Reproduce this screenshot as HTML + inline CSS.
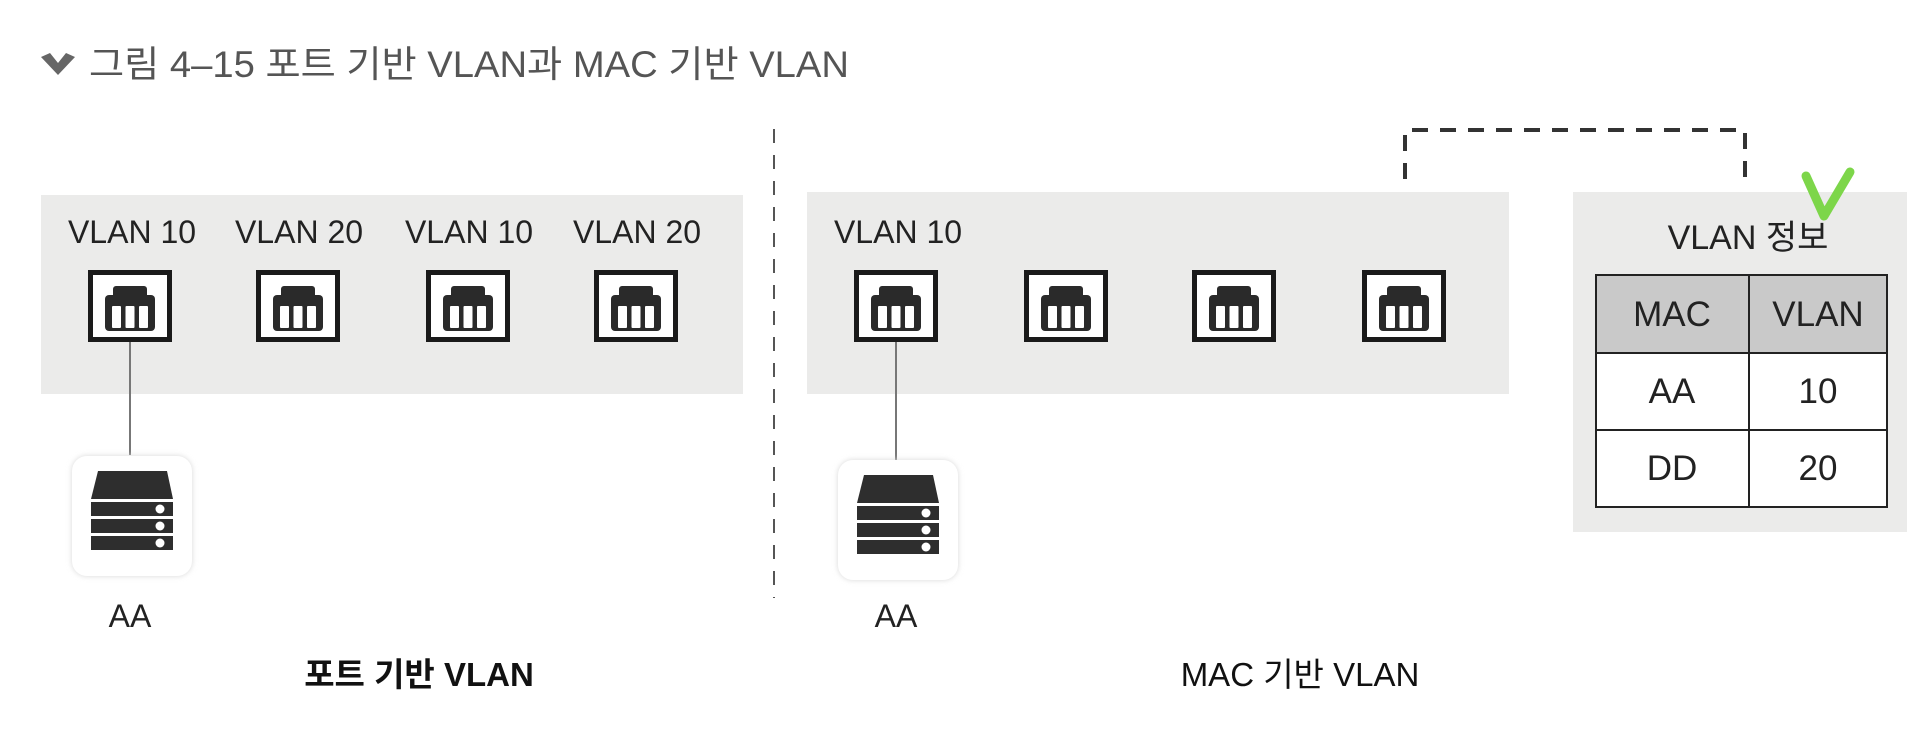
<!DOCTYPE html>
<html><head><meta charset="utf-8"><style>
html,body{margin:0;padding:0;background:#fff;}
svg{display:block;}
text{font-family:"Liberation Sans","Noto Sans CJK KR",sans-serif;}
</style></head><body>
<svg width="1932" height="730" viewBox="0 0 1932 730" xmlns="http://www.w3.org/2000/svg">
<defs>
<g id="port">
  <rect x="2.5" y="2.5" width="79" height="67" fill="#fff" stroke="#1a1a1a" stroke-width="5"/>
  <rect x="25" y="16" width="34" height="14" rx="3" fill="#2a2a2a"/>
  <rect x="17" y="25" width="50" height="36" rx="4" fill="#2a2a2a"/>
  <rect x="24" y="36" width="9" height="22" rx="1" fill="#fff"/>
  <rect x="37.5" y="36" width="9" height="22" rx="1" fill="#fff"/>
  <rect x="51" y="36" width="9" height="22" rx="1" fill="#fff"/>
</g>
<filter id="sh" x="-20%" y="-20%" width="140%" height="140%"><feGaussianBlur stdDeviation="3"/></filter>
<g id="server">
  <rect x="0" y="0" width="120" height="120" rx="15" fill="#d8d8d8" filter="url(#sh)"/>
  <rect x="0" y="0" width="120" height="120" rx="15" fill="#fff"/>
  <path d="M26 15 L95 15 L101 43 L19 43 Z" fill="#2e2e2e"/>
  <rect x="19" y="46" width="82" height="14" fill="#2e2e2e"/>
  <rect x="19" y="63" width="82" height="14" fill="#2e2e2e"/>
  <rect x="19" y="80" width="82" height="14" fill="#2e2e2e"/>
  <circle cx="88" cy="53" r="4.5" fill="#fff"/>
  <circle cx="88" cy="70" r="4.5" fill="#fff"/>
  <circle cx="88" cy="87" r="4.5" fill="#fff"/>
</g>
</defs>

<!-- title -->
<path d="M41 57 L50 53 L58 63 L66 53 L75 57 L58 75 Z" fill="#666"/>
<text x="89" y="77" font-size="37" fill="#555" textLength="760" lengthAdjust="spacingAndGlyphs">그림 4–15  포트 기반 VLAN과 MAC 기반 VLAN</text>

<!-- divider -->
<line x1="774" y1="129" x2="774" y2="598" stroke="#555" stroke-width="2" stroke-dasharray="14,12"/>

<!-- left panel -->
<rect x="41" y="195" width="702" height="199" fill="#ebebea"/>
<g font-size="32" fill="#222" text-anchor="middle">
<text x="132" y="243">VLAN 10</text>
<text x="299" y="243">VLAN 20</text>
<text x="469" y="243">VLAN 10</text>
<text x="637" y="243">VLAN 20</text>
</g>
<use href="#port" x="88" y="270"/>
<use href="#port" x="256" y="270"/>
<use href="#port" x="426" y="270"/>
<use href="#port" x="594" y="270"/>
<line x1="130" y1="342" x2="130" y2="455" stroke="#777" stroke-width="2"/>
<use href="#server" x="72" y="456"/>
<text x="130" y="627" font-size="32" fill="#222" text-anchor="middle">AA</text>
<text x="419" y="686" font-size="33" fill="#111" text-anchor="middle" font-weight="bold">포트 기반 VLAN</text>

<!-- right panel -->
<rect x="807" y="192" width="702" height="202" fill="#ebebea"/>
<text x="898" y="243" font-size="32" fill="#222" text-anchor="middle">VLAN 10</text>
<use href="#port" x="854" y="270"/>
<use href="#port" x="1024" y="270"/>
<use href="#port" x="1192" y="270"/>
<use href="#port" x="1362" y="270"/>
<line x1="896" y1="342" x2="896" y2="460" stroke="#777" stroke-width="2"/>
<use href="#server" x="838" y="460"/>
<text x="896" y="627" font-size="32" fill="#222" text-anchor="middle">AA</text>
<text x="1300" y="686" font-size="33" fill="#111" text-anchor="middle">MAC 기반 VLAN</text>

<!-- dashed bracket -->
<path d="M1405 179 L1405 130 L1745 130 L1745 179" fill="none" stroke="#333" stroke-width="4" stroke-dasharray="16,12"/>

<!-- info panel -->
<rect x="1573" y="192" width="334" height="340" fill="#ebebea"/>
<text x="1748" y="249" font-size="34" fill="#222" text-anchor="middle">VLAN 정보</text>
<rect x="1596" y="275" width="291" height="78" fill="#c9c9c9"/>
<rect x="1596" y="353" width="291" height="154" fill="#fff"/>
<rect x="1596" y="275" width="291" height="232" fill="none" stroke="#222" stroke-width="2"/>
<line x1="1749" y1="275" x2="1749" y2="507" stroke="#222" stroke-width="2"/>
<line x1="1596" y1="353" x2="1887" y2="353" stroke="#222" stroke-width="2"/>
<line x1="1596" y1="430" x2="1887" y2="430" stroke="#222" stroke-width="2"/>
<g font-size="35" fill="#222" text-anchor="middle">
<text x="1672" y="326">MAC</text>
<text x="1818" y="326">VLAN</text>
<text x="1672" y="403">AA</text>
<text x="1818" y="403">10</text>
<text x="1672" y="480">DD</text>
<text x="1818" y="480">20</text>
</g>
<path d="M1806 176 L1824 216 L1850 172" fill="none" stroke="#7dd64a" stroke-width="9" stroke-linecap="round" stroke-linejoin="round"/>
</svg>
</body></html>
